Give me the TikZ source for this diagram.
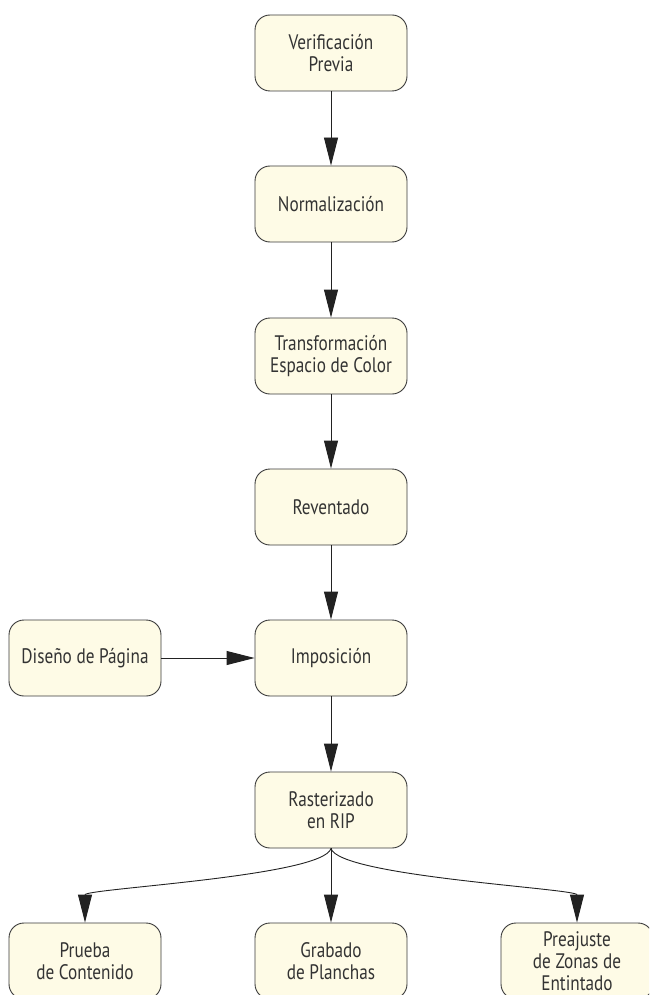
\documentclass[tikz,border=0pt]{standalone}
\usepackage{fontspec}
\setmainfont{PT Sans}[FakeStretch=0.82]
\usetikzlibrary{arrows.meta}
\definecolor{boxfill}{HTML}{FEFBE6}
\definecolor{boxline}{HTML}{3A3A3A}
\definecolor{txt}{HTML}{333333}
\definecolor{wire}{HTML}{222222}
\tikzset{
  stage/.style={draw=boxline, line width=0.9pt, fill=boxfill, rounded corners=15pt,
    minimum width=152pt, minimum height=76pt, inner sep=0pt, align=center,
    text=txt, font=\fontsize{21}{22}\selectfont},
  flow/.style={draw=wire, line width=0.9pt,
    -{Triangle[length=28pt,width=14pt]}}
}
\begin{document}
\begin{tikzpicture}[x=1pt,y=-1pt]
\useasboundingbox (0,0) rectangle (649,995);
\clip (0,0) rectangle (649,995);
% main column of processing stages
\node[stage] (ver) at (331,53)  {Verificación\\Previa};
\node[stage] (nor) at (331,204) {Normalización};
\node[stage] (tra) at (331,356) {Transformación\\Espacio de Color};
\node[stage] (rev) at (331,507) {Reventado};
\node[stage] (imp) at (331,658) {Imposición};
\node[stage] (dis) at (85,658)  {Diseño de Página};
\node[stage] (ras) at (331,810) {Rasterizado\\en RIP};
% outputs of the RIP
\node[stage] (pru) at (85,961)  {Prueba\\de Contenido};
\node[stage] (gra) at (331,961) {Grabado\\de Planchas};
\node[stage] (pre) at (577,961) {Preajuste\\de Zonas de\\Entintado};
% connectors
\draw[flow] (ver) -- (nor);
\draw[flow] (nor) -- (tra);
\draw[flow] (tra) -- (rev);
\draw[flow] (rev) -- (imp);
\draw[flow] (dis) -- (imp);
\draw[flow] (imp) -- (ras);
\draw[flow] (ras.south) -- (gra.north);
\draw[flow] (ras.south) .. controls +(-8,28) and +(0,-34) .. (pru.north);
\draw[flow] (ras.south) .. controls +(8,28) and +(0,-34) .. (pre.north);
\end{tikzpicture}
\end{document}
